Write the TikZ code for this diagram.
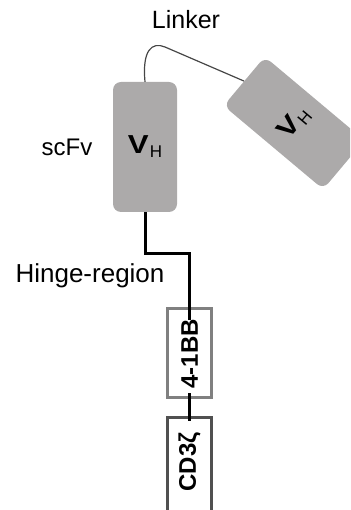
\documentclass[tikz,border=0pt]{standalone}
\usepackage{graphicx}
\usepackage{fontspec}
\setmainfont{Liberation Sans}

\definecolor{domGray}{RGB}{172,170,170}
\definecolor{linkGray}{RGB}{70,70,70}
\definecolor{costimGray}{RGB}{128,128,128}
\definecolor{signalGray}{RGB}{80,80,80}

\newcommand{\vhText}{{\fontsize{26}{28}\selectfont\bfseries\scalebox{1.2}[1]{V}}\kern1pt\raisebox{-4pt}{\fontsize{17}{20}\selectfont H}}

\begin{document}
\begin{tikzpicture}[
        x=1pt, y=-1pt,
        every node/.style={font=\fontsize{24}{28}\selectfont},
        vDomain/.style={rectangle, rounded corners=8pt, fill=domGray, minimum width=64pt, minimum height=130pt, inner sep=0pt},
        tailBox/.style={rectangle, fill=white, line width=3pt, minimum height=44pt, inner sep=0pt},
        boxText/.style={font=\fontsize{24}{28}\selectfont\bfseries, inner sep=0pt},
        linkerLine/.style={linkGray, line width=1.2pt},
        hingeLine/.style={black, line width=3pt}
    ]
        \useasboundingbox (0,0) rectangle (350,510);
        \clip (0,0) rectangle (350,510);

        % the two variable domains
        \node[vDomain] (vhLeft) at (145,147) {\vhText};
        \node[vDomain, rotate=50] (vhRight) at (294,123) {\vhText};

        % linker between them
        \coordinate (linkTop) at (165,47);
        \draw[linkerLine] (vhLeft.north) .. controls (142,50) and (152,41.5) .. (linkTop) -- (vhRight.north);

        % intracellular boxes
        \node[tailBox, draw=costimGray, rotate=90, minimum width=89pt] (box41bb) at (189.5,353) {};
        \node[boxText, rotate=90] (label41bb) at (189.5,354) {4-1BB};
        \node[tailBox, draw=signalGray, rotate=90, minimum width=130pt] (boxCD3) at (189.5,482) {};
        \node[boxText, rotate=90] (labelCD3) at (189.5,462) {CD3ζ};

        % hinge and tail connections, running a little into the boxes
        \draw[hingeLine] (vhLeft.south) -- ++(0,41) -| ([yshift=-13pt]box41bb.east);
        \draw[hingeLine] ([yshift=6pt]box41bb.west) -- ([yshift=-5pt]boxCD3.east);

        % labels
        \node[font=\fontsize{25}{28}\selectfont] (linkerLabel) at (186,20) {Linker};
        \node (scfvLabel) at (67,147) {scFv};
        \node[font=\fontsize{26}{30}\selectfont] (hingeLabel) at (90,276) {Hinge-region};

    \end{tikzpicture}
\end{document}
